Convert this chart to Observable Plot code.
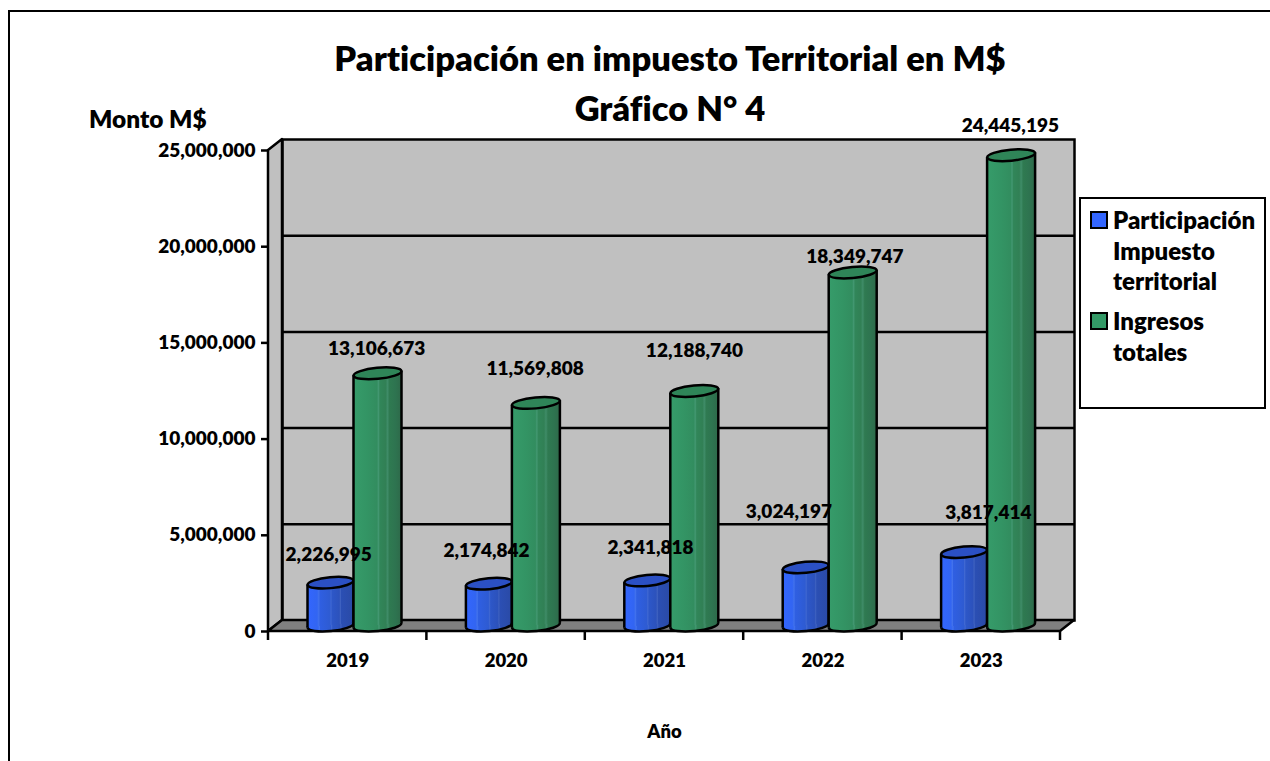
<!DOCTYPE html>
<html lang="es">
<head>
<meta charset="utf-8">
<script src="https://cdn.jsdelivr.net/npm/d3@7"></script>
<script src="https://cdn.jsdelivr.net/npm/@observablehq/plot@0.6"></script>
<style>
  html, body { margin: 0; padding: 0; background: #fff; overflow: hidden; }
  #page { position: relative; width: 1270px; height: 761px; font-family: Lato, sans-serif; color: #000; font-weight: 800; font-variant-ligatures: none; }
  #edge { position: absolute; left: 8px; top: 10px; right: 0; bottom: 0; border-left: 2.5px solid #000; border-top: 2.5px solid #000; }
  #title { position: absolute; left: 0; width: 1340px; top: 33px; text-align: center; font-size: 34.5px; line-height: 50px; }
  #ylabel { position: absolute; left: 89px; top: 106px; font-size: 24.4px; line-height: 26px; }
  #legend { position: absolute; left: 1079px; top: 197px; width: 183px; height: 208px; border: 2.5px solid #000; background: #fff; font-size: 24px; line-height: 30.5px; }
  .item { position: absolute; left: 32px; }
  .swatch { position: absolute; left: -23px; top: 6px; width: 14px; height: 14px; border: 2px solid #000; }
  #chart { position: absolute; left: 0; top: 0; }
  #chart svg { display: block; font-variant-ligatures: none; }
</style>
</head>
<body>
<div id="page">
  <div id="chart"></div>
  <div id="edge"></div>
  <div id="title">Participación en impuesto Territorial en M$<br>Gráfico N° 4</div>
  <div id="ylabel">Monto M$</div>
  <div id="legend"></div>
</div>
<script>
const years = ["2019", "2020", "2021", "2022", "2023"];
const participacion = [2226995, 2174842, 2341818, 3024197, 3817414];
const ingresos = [13106673, 11569808, 12188740, 18349747, 24445195];
const yTicks = [0, 5000000, 10000000, 15000000, 20000000, 25000000];
const seriesNames = ["Participación\nImpuesto\nterritorial", "Ingresos\ntotales"];
const seriesColors = ["#3366ff", "#339966"];

// label placement relative to each value (pixels)
const blueLabelDx = [-19, -19.6, -14, -34, 7];
const blueLabelDy = [-34, -39, -39, -61, -45];
const greenLabelDx = [29, 29, 30, 32, 29];
const greenLabelDy = [-30, -40, -46.5, -22, -35];

const depthX = 14, depthY = 11;
const tiltDeg = -5.5;
const BAND = 158.4;
const LINE = 2.5;

const rows = (values) => years.map((year, i) => ({year, value: values[i]}));

function ellipseSymbol(rx, ry) {
  const c = Math.cos(tiltDeg * Math.PI / 180), s = Math.sin(tiltDeg * Math.PI / 180), k = 0.5523;
  const P = (x, y) => [x * c - y * s, x * s + y * c];
  return {draw(ctx) {
    ctx.moveTo(...P(rx, 0));
    ctx.bezierCurveTo(...P(rx, k * ry), ...P(k * rx, ry), ...P(0, ry));
    ctx.bezierCurveTo(...P(-k * rx, ry), ...P(-rx, k * ry), ...P(-rx, 0));
    ctx.bezierCurveTo(...P(-rx, -k * ry), ...P(-k * rx, -ry), ...P(0, -ry));
    ctx.bezierCurveTo(...P(k * rx, -ry), ...P(rx, -k * ry), ...P(rx, 0));
    ctx.closePath();
  }};
}

function gradientDefs() {
  const defs = d3.create("svg:defs");
  const add = (id, stops) => {
    const g = defs.append("linearGradient").attr("id", id).attr("x1", 0).attr("x2", 1).attr("y1", 0).attr("y2", 0);
    stops.forEach(([o, col]) => g.append("stop").attr("offset", o).attr("stop-color", col));
  };
  add("gBlue", [[0, "#3366ff"], [0.22, "#3265f2"], [0.26, "#4272ec"], [0.28, "#2f5fe2"], [0.5, "#2e5bd2"], [0.52, "#4068d2"],
    [0.55, "#2d57c8"], [0.7, "#2c52bc"], [0.73, "#3f62c0"], [0.75, "#2b4fb4"], [1, "#2a4aa6"]]);
  add("gGreen", [[0, "#369c6a"], [0.3, "#339464"], [0.5, "#328d5f"], [0.53, "#439872"], [0.56, "#318659"], [0.68, "#318055"],
    [0.72, "#3f8c68"], [0.76, "#2f7a51"], [0.88, "#2e7450"], [1, "#2e6a4a"]]);
  return defs.node();
}

function chrome(index, scales, values, {width, height, marginLeft, marginRight}) {
  const x0 = marginLeft, x1 = width - marginRight, y0 = scales.y(0), yT = scales.y(25000000);
  const g = d3.create("svg:g").attr("stroke", "#000").attr("stroke-width", LINE).attr("stroke-linejoin", "round");
  g.append("path").attr("fill", "#c0c0c0")
    .attr("d", `M${x0},${y0}V${yT}l${depthX},${-depthY}V${y0 - depthY}Z`);
  g.append("path").attr("fill", "#808080")
    .attr("d", `M${x0},${y0}l${depthX},${-depthY}H${x1 + depthX}L${x1},${y0}Z`);
  const marks = years.map((y) => scales.x(y)).concat(x1);
  marks.forEach((px) => g.append("line").attr("x1", px).attr("x2", px).attr("y1", y0).attr("y2", y0 + 9));
  return g.node();
}

// Skews each cylinder body so that its ends follow the tilted ellipses.
const skewBody = (index, scales, values, dims, context, next) => {
  const g = next(index, scales, values, dims, context);
  d3.select(g).selectAll("rect")
    .style("transform-box", "fill-box").style("transform-origin", "center").style("transform", `skewY(${tiltDeg}deg)`);
  return g;
};

function cylinder(values, {gradient, topFill, insetLeft, barWidth}) {
  const data = rows(values);
  const center = insetLeft + barWidth / 2 - BAND / 2;
  const rx = barWidth / 2, ry = 5.5, baseDy = -6;
  const sym = ellipseSymbol(rx, ry);
  const tilt = rx * Math.sin(-tiltDeg * Math.PI / 180);
  return [
    Plot.dot(data, {x: "year", y: () => 0, dx: center, dy: baseDy, symbol: sym, r: 5, fill: gradient, stroke: "#000", strokeWidth: LINE}),
    Plot.barY(data, {x: "year", y: "value", insetLeft, insetRight: BAND - insetLeft - barWidth, dy: baseDy, fill: gradient, render: skewBody}),
    Plot.ruleX(data, {x: "year", y1: () => 0, y2: "value", dx: center - rx, dy: baseDy + tilt, stroke: "#000", strokeWidth: LINE}),
    Plot.ruleX(data, {x: "year", y1: () => 0, y2: "value", dx: center + rx, dy: baseDy - tilt, stroke: "#000", strokeWidth: LINE}),
    Plot.dot(data, {x: "year", y: "value", dx: center, dy: baseDy, symbol: sym, r: 5, fill: topFill, stroke: "#000", strokeWidth: LINE})
  ];
}

function valueLabels(values, dxs, dys) {
  return rows(values).map((d, i) => Plot.text([d], {
    x: "year", y: "value", text: (r) => d3.format(",")(r.value),
    dx: dxs[i], dy: dys[i], fontSize: 19, fontWeight: 800, fill: "#000"
  }));
}

const chart = Plot.plot({
  width: 1270,
  height: 761,
  marginLeft: 268,
  marginRight: 210,
  marginTop: 150,
  marginBottom: 130,
  style: {fontFamily: "Lato, sans-serif", background: "transparent", overflow: "visible"},
  x: {type: "band", domain: years, padding: 0, round: false, label: null},
  y: {domain: [0, 25000000], label: null},
  marks: [
    gradientDefs,
    Plot.frame({fill: "#c0c0c0", stroke: "#000", strokeWidth: LINE, dx: depthX, dy: -depthY}),
    Plot.ruleY(yTicks.slice(1, -1), {dx: depthX, dy: -depthY, stroke: "#000", strokeWidth: LINE}),
    chrome,
    ...cylinder(participacion, {gradient: "url(#gBlue)", topFill: "#2b50c4", insetLeft: 39, barWidth: 46}),
    ...cylinder(ingresos, {gradient: "url(#gGreen)", topFill: "#2f8558", insetLeft: 85, barWidth: 48}),
    ...valueLabels(participacion, blueLabelDx, blueLabelDy),
    ...valueLabels(ingresos, greenLabelDx, greenLabelDy),
    Plot.axisY({ticks: yTicks, tickSize: 7, tickPadding: 6, tickFormat: d3.format(","), label: null, fontSize: 19, fontWeight: 800, fill: "#000", stroke: "#000", strokeWidth: LINE}),
    Plot.axisX({tickSize: 0, tickPadding: 22, label: null, fontSize: 18.5, fontWeight: 800, fill: "#000"}),
    Plot.text(["Año"], {frameAnchor: "bottom", dy: 106, fontSize: 18.5, fontWeight: 800, fill: "#000"})
  ]
});
document.getElementById("chart").appendChild(chart);

// Legend
const legend = d3.select("#legend");
const legendTops = [6, 107];
seriesNames.forEach((name, i) => {
  const item = legend.append("div").attr("class", "item").style("top", legendTops[i] + "px");
  item.append("div").attr("class", "swatch").style("background", seriesColors[i]);
  name.split("\n").forEach((line) => item.append("div").text(line));
});
</script>
</body>
</html>
